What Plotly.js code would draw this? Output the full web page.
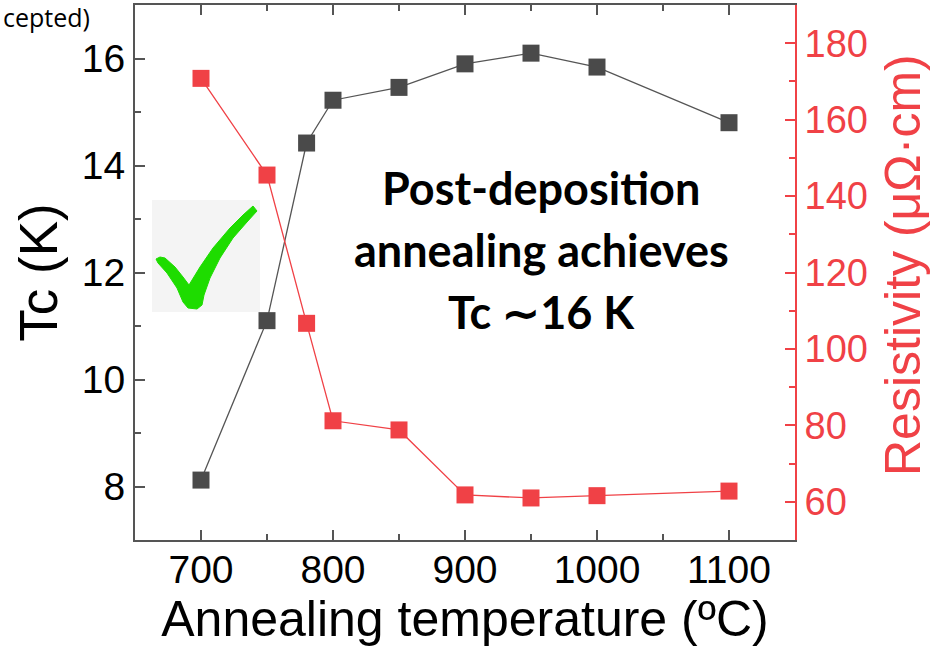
<!DOCTYPE html>
<html>
<head>
<meta charset="utf-8">
<script src="https://cdn.plot.ly/plotly-3.0.1.min.js"></script>
<style>html,body{margin:0;padding:0;background:#fff;}#chart{width:931px;height:652px;}</style>
</head>
<body>
<div id="chart"></div>
<script>
// Data
const temperatures = [700, 750, 780, 800, 850, 900, 950, 1000, 1100];
const tcValues = [8.12, 11.1, 14.42, 15.22, 15.46, 15.9, 16.1, 15.84, 14.8];
const resistivityValues = [170.8, 145.5, 106.7, 81.2, 78.8, 61.8, 61.0, 61.6, 62.8];
const xTicks = [700, 800, 900, 1000, 1100];
const annotationLines = ["Post-deposition", "annealing achieves", "Tc \u223C16 K"];

// Geometry helpers (decoration only)
const L = 135, R = 795, T = 5, B = 540;
const xRange = [650, 1150], yRange = [7, 17], y2Range = [50, 190];
const px2x = p => xRange[0] + (p - L) / (R - L) * (xRange[1] - xRange[0]);
const py2y = p => yRange[0] + (B - p) / (B - T) * (yRange[1] - yRange[0]);
const px2paper = p => (p - L) / (R - L);
const py2paper = p => (B - p) / (B - T);

const checkPx = [[156,259],[160,257],[165,258],[175,267],[183,277],[189,285],[200,267],[213,248],[230,228],[243,215],[253,206],[257,211],[247,222],[233,238],[220,258],[210,278],[204,295],[202,305],[197,309],[188,308],[183,302],[177,288],[167,273],[158,263]];
const checkPath = 'M ' + checkPx.map(p => px2x(p[0]) + ',' + py2y(p[1])).join(' L ') + ' Z';

const black = '#4a4a4a';
const red = '#f04146';
const sans = 'Liberation Sans, Arial, sans-serif';

const traces = [
  {
    x: temperatures, y: resistivityValues, yaxis: 'y2', type: 'scatter', mode: 'lines+markers',
    line: {color: red, width: 1.3},
    marker: {symbol: 'square', size: 17, color: red},
    cliponaxis: false, showlegend: false
  },
  {
    x: temperatures, y: tcValues, type: 'scatter', mode: 'lines+markers',
    line: {color: '#555555', width: 1.3},
    marker: {symbol: 'square', size: 17, color: black},
    cliponaxis: false, showlegend: false
  }
];

const tickFont = {family: sans, size: 39, color: '#000'};

const layout = {
  width: 931, height: 652,
  margin: {l: L, r: 931 - R, t: T, b: 652 - B},
  paper_bgcolor: '#fff', plot_bgcolor: '#fff',
  showlegend: false,
  xaxis: {
    range: xRange, tickvals: xTicks, ticks: 'inside', ticklen: 10, tickwidth: 2, tickcolor: '#555',
    minor: {dtick: 50, tick0: 650, ticks: 'inside', ticklen: 6, tickwidth: 2, tickcolor: '#555'},
    showline: true, linecolor: '#555', linewidth: 2, mirror: 'ticks', showgrid: false, zeroline: false,
    tickfont: tickFont, ticklabelstandoff: -6,
    title: {text: 'Annealing temperature (\u00BAC)', font: {family: sans, size: 50, color: '#000'}, standoff: 8}
  },
  yaxis: {
    range: yRange, tick0: 8, dtick: 2, ticks: 'inside', ticklen: 10, tickwidth: 2, tickcolor: '#555',
    minor: {dtick: 1, tick0: 7, ticks: 'inside', ticklen: 6, tickwidth: 2, tickcolor: '#555'},
    showline: true, linecolor: '#555', linewidth: 2, showgrid: false, zeroline: false,
    tickfont: tickFont,
    title: {text: 'Tc (K)', font: {family: sans, size: 53, color: '#000'}, standoff: 7}
  },
  yaxis2: {
    range: y2Range, overlaying: 'y', side: 'right', tick0: 60, dtick: 20,
    ticks: 'inside', ticklen: 10, tickwidth: 2, tickcolor: red,
    minor: {dtick: 10, tick0: 50, ticks: 'inside', ticklen: 6, tickwidth: 2, tickcolor: red},
    showline: true, linecolor: red, linewidth: 2, showgrid: false, zeroline: false,
    tickfont: {family: sans, size: 38, color: red}
  },
  shapes: [
    {type: 'rect', xref: 'x', yref: 'y', x0: px2x(152), x1: px2x(260), y0: py2y(312), y1: py2y(200),
     fillcolor: '#f4f4f4', line: {width: 0}, layer: 'below'},
    {type: 'path', xref: 'x', yref: 'y', path: checkPath, fillcolor: '#1edc00', line: {color: '#1edc00', width: 1}, layer: 'above'}
  ],
  annotations: [
    ...annotationLines.map((t, i) => ({
      text: '<b>' + t + '</b>', xref: 'paper', yref: 'paper', x: px2paper(541), y: py2paper([188, 250, 312][i]),
      xanchor: 'center', yanchor: 'middle', showarrow: false,
      font: {family: 'Lato, Noto Sans, sans-serif', size: 45, color: '#000'}
    })),
    {text: 'Resistivity (\u03BC\u03A9\u00B7cm)', xref: 'paper', yref: 'paper', x: px2paper(903), y: py2paper(265),
     xanchor: 'center', yanchor: 'middle', textangle: -90, showarrow: false, borderpad: 0,
     font: {family: sans, size: 50, color: red}},
    {text: 'cepted)', xref: 'paper', yref: 'paper', x: px2paper(2), y: py2paper(17),
     xanchor: 'left', yanchor: 'middle', showarrow: false, borderpad: 0,
     font: {family: 'Open Sans, sans-serif', size: 25, color: '#000'}}
  ]
};

Plotly.newPlot('chart', traces, layout, {displayModeBar: false, staticPlot: true});
</script>
</body>
</html>
